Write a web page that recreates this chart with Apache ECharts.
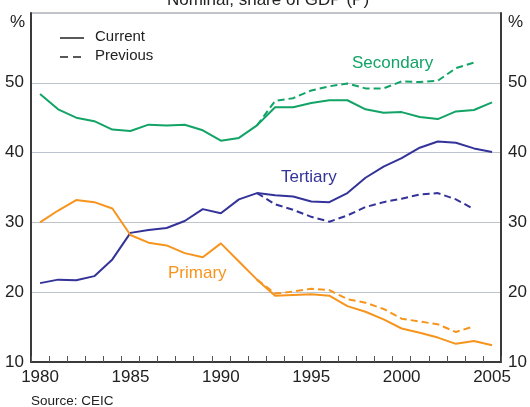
<!DOCTYPE html>
<html>
<head>
<meta charset="utf-8">
<script src="https://cdn.jsdelivr.net/npm/echarts@6/dist/echarts.min.js"></script>
<style>
  html, body { margin: 0; padding: 0; background: #fff; }
  #main { width: 530px; height: 407px; }
</style>
</head>
<body>
<div id="main"></div>
<script>
// 年份
var years = []
for (var y = 1980; y <= 2005; y++) years.push(String(y))

var secondaryCurrent = [48.4, 46.2, 45.0, 44.5, 43.3, 43.1, 44.0, 43.9, 44.0, 43.2, 41.7, 42.1, 43.9,
  46.5, 46.5, 47.1, 47.5, 47.5, 46.2, 45.7, 45.8, 45.1, 44.8, 45.9, 46.1, 47.2]
var secondaryPrevious = [null, null, null, null, null, null, null, null, null, null, null, null, 43.9,
  47.4, 47.8, 48.9, 49.5, 49.9, 49.2, 49.2, 50.2, 50.1, 50.3, 52.1, 52.9, null]

var tertiaryCurrent = [21.3, 21.8, 21.7, 22.3, 24.7, 28.5, 28.9, 29.2, 30.2, 31.9, 31.3, 33.3, 34.2,
  33.9, 33.7, 33.0, 32.9, 34.2, 36.4, 38.0, 39.2, 40.7, 41.6, 41.4, 40.6, 40.1]
var tertiaryPrevious = [null, null, null, null, null, null, null, null, null, null, null, null, 34.2,
  32.6, 31.8, 30.8, 30.1, 31.0, 32.2, 32.9, 33.4, 34.0, 34.2, 33.3, 31.9, null]

var primaryCurrent = [30.0, 31.7, 33.2, 32.9, 32.0, 28.2, 27.1, 26.7, 25.6, 25.0, 27.0, 24.4, 21.8,
  19.5, 19.6, 19.7, 19.5, 18.0, 17.2, 16.1, 14.8, 14.2, 13.5, 12.6, 13.0, 12.4]
var primaryPrevious = [null, null, null, null, null, null, null, null, null, null, null, null, 21.8,
  19.8, 20.1, 20.5, 20.3, 19.0, 18.5, 17.6, 16.2, 15.8, 15.4, 14.3, 15.1, null]

var yTicks = [10, 20, 30, 40, 50]

var GREEN = '#12a366'
var BLUE = '#33339a'
var ORANGE = '#f7941d'
var FONT = '"Liberation Sans", Arial, sans-serif'

function lineSeries(name, data, color, dashed) {
  return {
    name: name,
    type: 'line',
    data: data,
    symbol: 'none',
    connectNulls: false,
    lineStyle: { color: color, width: 2, type: dashed ? [7, 4] : 'solid' },
    z: 3
  }
}

function sideAxis(pos) {
  return {
    type: 'value',
    position: pos,
    min: 10,
    max: 60,
    interval: 10,
    axisLine: { show: true, lineStyle: { color: '#3a3a3a', width: 2 } },
    axisTick: { show: false },
    axisLabel: {
      margin: 7,
      fontSize: 17,
      fontFamily: FONT,
      color: '#222',
      formatter: function (v) { return yTicks.indexOf(v) >= 0 ? String(v) : '' }
    },
    splitLine: {
      show: pos === 'left',
      lineStyle: { color: '#bcc3cd', width: 1 }
    }
  }
}

var chart = echarts.init(document.getElementById('main'))

var option = {
  animation: false,
  backgroundColor: '#fff',
  textStyle: { fontFamily: FONT },
  grid: {
    left: 31,
    right: 25,
    top: 13,
    bottom: 45,
    show: true,
    borderColor: '#8a8a8a',
    borderWidth: 1,
    backgroundColor: 'transparent'
  },
  xAxis: {
    type: 'category',
    data: years,
    boundaryGap: true,
    axisLine: { show: true, lineStyle: { color: '#3a3a3a', width: 2 } },
    axisTick: {
      show: true,
      inside: true,
      length: 6,
      interval: 0,
      lineStyle: { color: '#555', width: 1 }
    },
    axisLabel: {
      interval: 4,
      margin: 7,
      fontSize: 17,
      fontFamily: FONT,
      color: '#222'
    },
    splitLine: { show: false }
  },
  yAxis: [sideAxis('left'), sideAxis('right')],
  series: [
    lineSeries('Secondary', secondaryCurrent, GREEN, false),
    lineSeries('Secondary previous', secondaryPrevious, GREEN, true),
    lineSeries('Tertiary', tertiaryCurrent, BLUE, false),
    lineSeries('Tertiary previous', tertiaryPrevious, BLUE, true),
    lineSeries('Primary', primaryCurrent, ORANGE, false),
    lineSeries('Primary previous', primaryPrevious, ORANGE, true)
  ],
  graphic: [
    // 标题（上半部分被裁掉）
    { type: 'text', x: 268, y: 0, style: { text: 'Nominal, share of GDP (P)', fill: '#222', font: '17px ' + FONT, textAlign: 'center', textVerticalAlign: 'middle', verticalAlign: 'middle' } },
    { type: 'text', x: 25, y: 22, style: { text: '%', fill: '#222', font: '17px ' + FONT, textAlign: 'right', textVerticalAlign: 'middle', verticalAlign: 'middle' } },
    { type: 'text', x: 508, y: 22, style: { text: '%', fill: '#222', font: '17px ' + FONT, textAlign: 'left', textVerticalAlign: 'middle', verticalAlign: 'middle' } },
    // 图例
    { type: 'line', shape: { x1: 60, y1: 38, x2: 84, y2: 38 }, style: { stroke: '#222', lineWidth: 1.5 } },
    { type: 'line', shape: { x1: 60, y1: 57, x2: 84, y2: 57 }, style: { stroke: '#222', lineWidth: 1.5, lineDash: [8, 5] } },
    { type: 'text', x: 95, y: 37, style: { text: 'Current', fill: '#222', font: '15px ' + FONT, textAlign: 'left', textVerticalAlign: 'middle', verticalAlign: 'middle' } },
    { type: 'text', x: 95, y: 56, style: { text: 'Previous', fill: '#222', font: '15px ' + FONT, textAlign: 'left', textVerticalAlign: 'middle', verticalAlign: 'middle' } },
    // 系列标签
    { type: 'text', x: 352, y: 63, style: { text: 'Secondary', fill: GREEN, font: '17px ' + FONT, textAlign: 'left', textVerticalAlign: 'middle', verticalAlign: 'middle' } },
    { type: 'text', x: 281, y: 177, style: { text: 'Tertiary', fill: BLUE, font: '17px ' + FONT, textAlign: 'left', textVerticalAlign: 'middle', verticalAlign: 'middle' } },
    { type: 'text', x: 168, y: 273, style: { text: 'Primary', fill: ORANGE, font: '17px ' + FONT, textAlign: 'left', textVerticalAlign: 'middle', verticalAlign: 'middle' } },
    // 数据来源
    { type: 'text', x: 31, y: 401, style: { text: 'Source: CEIC', fill: '#222', font: '13.5px ' + FONT, textAlign: 'left', textVerticalAlign: 'middle', verticalAlign: 'middle' } }
  ]
}

chart.setOption(option, true)
</script>
</body>
</html>
